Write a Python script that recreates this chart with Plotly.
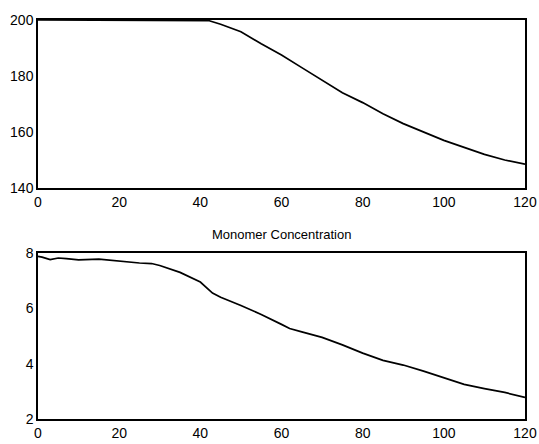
import plotly.graph_objects as go

# Time axis (minutes) shared by both panels
time_top = [0, 10, 20, 30, 40, 42, 45, 50, 55, 60, 65, 70, 75, 80, 85, 90,
            95, 100, 105, 110, 115, 120]
temp_top = [200, 200, 200, 200, 200, 199.8, 198.5, 195.8, 191.5, 187.5, 183,
            178.5, 174, 170.5, 166.5, 163, 160, 157, 154.5, 152, 150, 148.5]

time_mono = [0, 1, 3, 5, 7, 10, 15, 20, 25, 28, 30, 35, 40, 43, 45, 50, 55,
             60, 62, 65, 70, 75, 80, 85, 90, 95, 100, 105, 110, 115, 120]
monomer = [7.88, 7.85, 7.76, 7.82, 7.8, 7.75, 7.78, 7.7, 7.64, 7.62, 7.55,
           7.3, 6.95, 6.55, 6.4, 6.1, 5.78, 5.42, 5.27, 5.15, 4.95, 4.68,
           4.38, 4.12, 3.95, 3.73, 3.48, 3.25, 3.1, 2.96, 2.78]

top_ticks_x = [0, 20, 40, 60, 80, 100, 120]
top_ticks_y = [140, 160, 180, 200]
mono_ticks_y = [2, 4, 6, 8]
mono_title = "Monomer Concentration"

FONT = dict(family="Liberation Sans, Arial, sans-serif", size=14, color="black")

fig = go.Figure()
fig.add_trace(go.Scatter(x=time_top, y=temp_top, mode="lines",
                         line=dict(color="black", width=1.7),
                         xaxis="x", yaxis="y", showlegend=False))
fig.add_trace(go.Scatter(x=time_mono, y=monomer, mode="lines",
                         line=dict(color="black", width=1.7),
                         xaxis="x2", yaxis="y2", showlegend=False))

axis_common = dict(showgrid=False, zeroline=False, showline=True, mirror=True,
                   linecolor="black", linewidth=1.5, ticks="",
                   tickfont=FONT, automargin=False)

fig.update_layout(
    width=539, height=444,
    margin=dict(l=38, r=14, t=20, b=25),
    paper_bgcolor="white", plot_bgcolor="white",
    xaxis=dict(domain=[0, 1], range=[0, 120], tickvals=top_ticks_x,
               anchor="y", **axis_common),
    yaxis=dict(domain=[0.5789, 1], range=[140, 200], tickvals=top_ticks_y,
               anchor="x", **axis_common),
    xaxis2=dict(domain=[0, 1], range=[0, 120], tickvals=top_ticks_x,
                anchor="y2", **axis_common),
    yaxis2=dict(domain=[0, 0.416], range=[2, 8], tickvals=mono_ticks_y,
                anchor="x2", **axis_common),
    annotations=[dict(text=mono_title, x=0.5, y=0.416, xref="paper",
                      yref="paper", xanchor="center", yanchor="bottom",
                      yshift=9, showarrow=False,
                      font=dict(family=FONT["family"], size=13, color="black"))],
)

fig.write_html("out.html")
